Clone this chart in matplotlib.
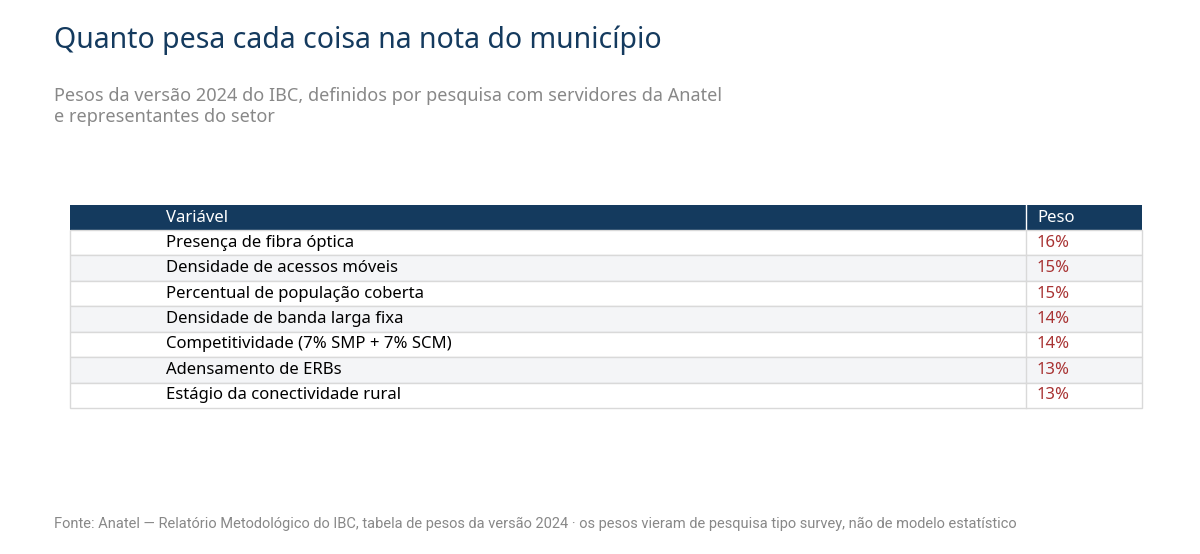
import matplotlib
matplotlib.use("Agg")
import matplotlib.pyplot as plt
from matplotlib.patches import Rectangle

variaveis = ["Presença de fibra óptica", "Densidade de acessos móveis",
             "Percentual de população coberta", "Densidade de banda larga fixa",
             "Competitividade (7% SMP + 7% SCM)", "Adensamento de ERBs",
             "Estágio da conectividade rural"]
pesos = [16, 15, 15, 14, 14, 13, 13]
headers = ["Variável", "Peso"]

plt.rcParams['font.family'] = ['Noto Sans', 'DejaVu Sans']
fig = plt.figure(figsize=(12, 5.54), dpi=100)
ax = fig.add_axes([0, 0, 1, 1])
ax.set_xlim(0, 1200); ax.set_ylim(554, 0); ax.axis('off')

navy = "#143A5E"
ax.text(54, 40, "Quanto pesa cada coisa na nota do município", fontsize=20.5,
        fontweight='bold', color=navy, va='center')
ax.text(54, 96, "Pesos da versão 2024 do IBC, definidos por pesquisa com servidores da Anatel",
        fontsize=13, color="#888888", va='center')
ax.text(54, 117, "e representantes do setor", fontsize=13, color="#888888", va='center')

x0, x1, xd = 70, 1142, 1026
top, hh = 205, 25
rh = (408 - 230) / len(variaveis)
ax.add_patch(Rectangle((x0, top), x1 - x0, hh, color=navy, lw=0))
ax.plot([xd, xd], [top, top + hh], color="white", lw=1)
ax.text(166, top + hh / 2, headers[0], color="white", fontweight='bold', fontsize=12, va='center')
ax.text(1037, top + hh / 2, headers[1], color="white", fontweight='bold', fontsize=12, va='center')
for i, (v, p) in enumerate(zip(variaveis, pesos)):
    y = top + hh + i * rh
    fc = "#F4F5F7" if i % 2 else "white"
    ax.add_patch(Rectangle((x0, y), x1 - x0, rh, facecolor=fc, edgecolor="#D9D9D9", lw=1))
    ax.plot([xd, xd], [y, y + rh], color="#D9D9D9", lw=1)
    ax.text(166, y + rh / 2, v, fontsize=12, color="black", va='center')
    ax.text(1037, y + rh / 2, f"{p}%", fontsize=12, color="#A83232", fontweight='bold', va='center')

ax.text(54, 524, "Fonte: Anatel — Relatório Metodológico do IBC, tabela de pesos da versão 2024 · os pesos vieram de pesquisa tipo survey, não de modelo estatístico",
        fontsize=10.5, color="#888888", va='center', family=['Roboto', 'DejaVu Sans'])
fig.savefig("out.png", dpi=100)
